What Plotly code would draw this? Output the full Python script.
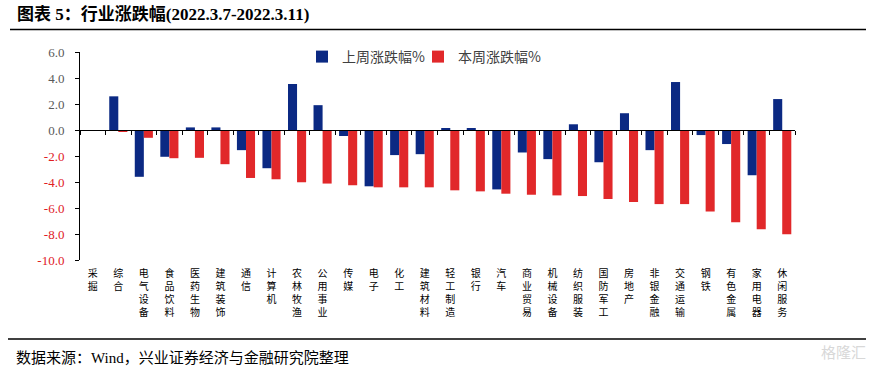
import plotly.graph_objects as go

categories = ["采掘", "综合", "电气设备", "食品饮料", "医药生物", "建筑装饰", "通信", "计算机",
              "农林牧渔", "公用事业", "传媒", "电子", "化工", "建筑材料", "轻工制造", "银行",
              "汽车", "商业贸易", "机械设备", "纺织服装", "国防军工", "房地产", "非银金融",
              "交通运输", "钢铁", "有色金属", "家用电器", "休闲服务"]
last_week = [0.0, 2.59, -3.60, -2.06, 0.20, 0.20, -1.55, -2.94, 3.54, 1.91, -0.46, -4.33,
             -1.93, -1.86, 0.13, 0.10, -4.57, -1.73, -2.24, 0.44, -2.48, 1.29, -1.55, 3.69,
             -0.39, -1.08, -3.48, 2.38]
this_week = [0.0, -0.15, -0.60, -2.17, -2.14, -2.63, -3.69, -3.79, -4.02, -4.12, -4.25, -4.41,
             -4.41, -4.41, -4.64, -4.72, -4.90, -4.98, -5.03, -5.08, -5.31, -5.54, -5.70, -5.70,
             -6.27, -7.09, -7.63, -8.02]
y_ticks = [6, 4, 2, 0, -2, -4, -6, -8, -10]
series_names = ["上周涨跌幅%", "本周涨跌幅%"]
title_text = "图表 5：行业涨跌幅(2022.3.7-2022.3.11)"
source_text = "数据来源：Wind，兴业证券经济与金融研究院整理"
watermark_text = "格隆汇"

W, H = 876, 368
L, R, T, B = 80, 795, 52, 260

def px2x(px):
    return (px - L) / (R - L)

def py2y(py):
    return (B - py) / (B - T)

BLUE = "#0b2983"
RED = "#e1282a"
SERIF = "Liberation Serif, Noto Sans CJK SC, serif"
CJK = "Noto Sans CJK SC, sans-serif"

fig = go.Figure()
fig.add_trace(go.Bar(x=categories, y=last_week, name=series_names[0], marker_color=BLUE,
                     marker_line_width=0, legend="legend"))
fig.add_trace(go.Bar(x=categories, y=this_week, name=series_names[1], marker_color=RED,
                     marker_line_width=0, legend="legend2"))
# helper trace so that the zero-line category axis is drawn
fig.add_trace(go.Scatter(x=categories, y=this_week, xaxis="x2", mode="markers",
                         marker=dict(opacity=0), showlegend=False, hoverinfo="skip"))

ytext = []
for v in y_ticks:
    s = f"{v:.1f}"
    if v < 0:
        ytext.append(f"<span style='color:#e0201f'>{s}</span>")
    else:
        ytext.append(s)

xtext = ["<br>".join(list(c)) for c in categories]
xrange = [-0.5, len(categories) - 0.5]

legend_common = dict(orientation="h", xref="paper", yref="paper", xanchor="left",
                     yanchor="top", font=dict(family=CJK, size=14, color="#404040"),
                     bgcolor="rgba(0,0,0,0)", itemwidth=30)

fig.update_layout(
    width=W, height=H,
    margin=dict(l=L, r=W - R, t=T, b=H - B, pad=0, autoexpand=False),
    paper_bgcolor="white", plot_bgcolor="white",
    barmode="group", bargap=0.29, bargroupgap=0,
    font=dict(family=CJK, color="#000000"),
    legend=dict(x=px2x(302), y=py2y(41), **legend_common),
    legend2=dict(x=px2x(418), y=py2y(41), **legend_common),
    xaxis=dict(type="category", range=xrange, showline=False, ticks="", showgrid=False,
               zeroline=False, tickmode="array", tickvals=categories, ticktext=xtext,
               tickangle=0, ticklabelstandoff=6,
               tickfont=dict(family=CJK, size=10, color="#000000")),
    xaxis2=dict(type="category", overlaying="x", matches="x", anchor="free", position=0.625,
                showline=True, linecolor="#000000", linewidth=1.3, ticks="outside",
                tickson="boundaries", ticklen=4, tickcolor="#000000", tickwidth=1,
                showticklabels=False, showgrid=False, zeroline=False),
    yaxis=dict(range=[-10, 6], showline=True, linecolor="#000000", linewidth=1,
               ticks="outside", ticklen=4, tickcolor="#000000", showgrid=False,
               zeroline=False, tickmode="array", tickvals=y_ticks, ticktext=ytext,
               ticklabelstandoff=8,
               tickfont=dict(family=SERIF, size=13, color="#595959")),
    showlegend=True,
)

fig.add_annotation(text=f"<b>{title_text}</b>", xref="paper", yref="paper",
                   x=px2x(15), y=py2y(14), xanchor="left", yanchor="middle",
                   showarrow=False, font=dict(family=SERIF, size=17, color="#000000"))
fig.add_annotation(text=source_text, xref="paper", yref="paper",
                   x=px2x(14), y=py2y(357), xanchor="left", yanchor="middle",
                   showarrow=False, font=dict(family=SERIF, size=15, color="#000000"))
fig.add_annotation(text=watermark_text, xref="paper", yref="paper",
                   x=px2x(868), y=py2y(351), xanchor="right", yanchor="middle",
                   showarrow=False, font=dict(family=CJK, size=15, color="#d8d8d8"))

fig.add_shape(type="line", xref="paper", yref="paper", x0=px2x(10), x1=px2x(866),
              y0=py2y(29.5), y1=py2y(29.5), line=dict(color="#000000", width=1.5))
fig.add_shape(type="line", xref="paper", yref="paper", x0=px2x(8), x1=px2x(866),
              y0=py2y(339), y1=py2y(339), line=dict(color="#000000", width=1.5))

fig.write_html("out.html", config={"displayModeBar": False},
               post_script="document.body.style.margin='0';document.body.style.overflow='hidden';")
